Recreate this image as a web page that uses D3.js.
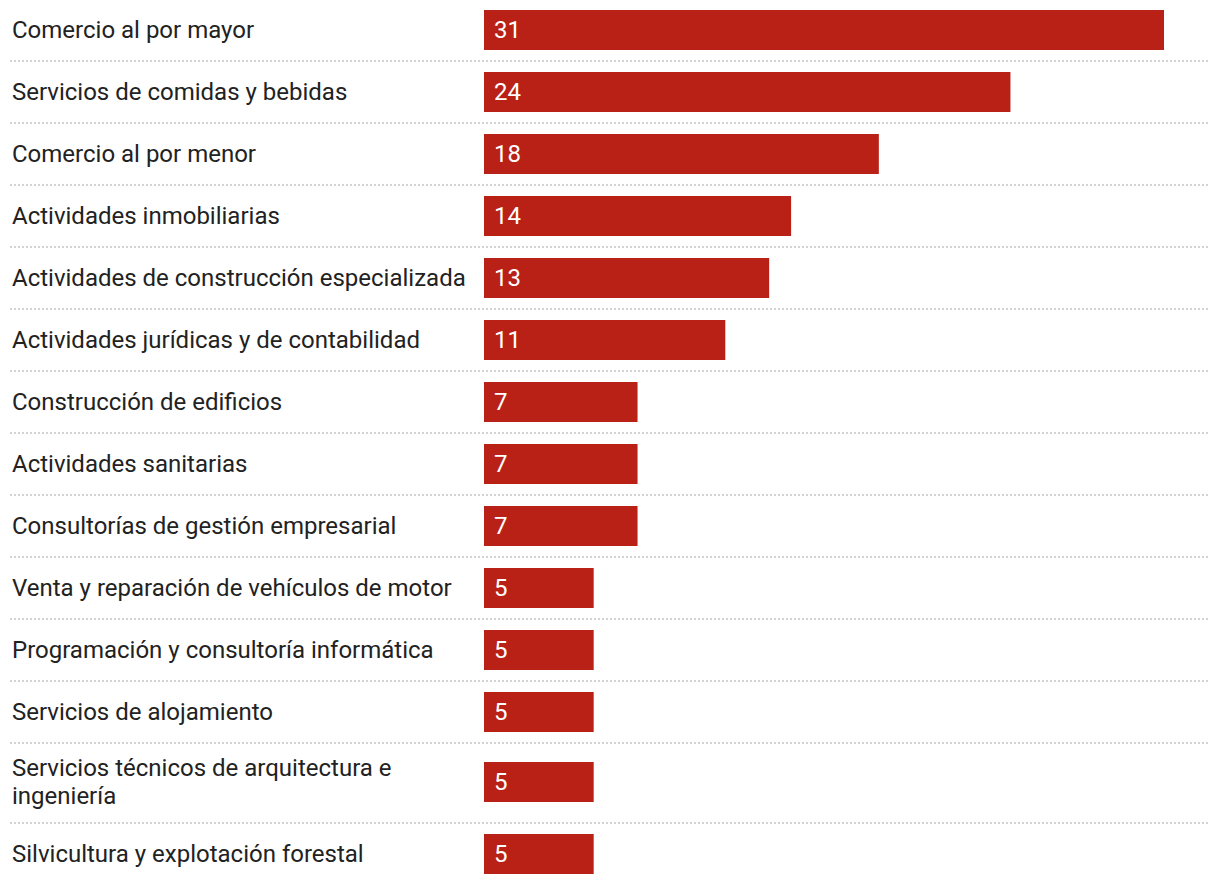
<!DOCTYPE html>
<html><head><meta charset="utf-8">
<script src="https://cdn.jsdelivr.net/npm/d3@7"></script>
<style>
html,body{margin:0;padding:0;background:#fff;}
svg{display:block;font-family:Roboto,sans-serif;}
</style></head>
<body>
<svg id="chart" width="1220" height="884"></svg>
<script>
const categories = [
  "Comercio al por mayor",
  "Servicios de comidas y bebidas",
  "Comercio al por menor",
  "Actividades inmobiliarias",
  "Actividades de construcción especializada",
  "Actividades jurídicas y de contabilidad",
  "Construcción de edificios",
  "Actividades sanitarias",
  "Consultorías de gestión empresarial",
  "Venta y reparación de vehículos de motor",
  "Programación y consultoría informática",
  "Servicios de alojamiento",
  "Servicios técnicos de arquitectura e ingeniería",
  "Silvicultura y explotación forestal"
];
const values = [31, 24, 18, 14, 13, 11, 7, 7, 7, 5, 5, 5, 5, 5];

(function () {
const svg = d3.select("#chart");
const fontSize = 24, lineH = 28, labelX = 12, labelMax = 462;
const barX = 484, barW = 680, barH = 40;

const x = d3.scaleLinear().domain([0, d3.max(values)]).range([0, barW]);

const meas = svg.append("text").attr("font-size", fontSize).attr("visibility", "hidden");
function wrap(str) {
  const words = str.split(" ");
  const lines = [];
  let cur = "";
  for (const w of words) {
    const t = cur ? cur + " " + w : w;
    meas.text(t);
    if (meas.node().getComputedTextLength() > labelMax && cur) {
      lines.push(cur); cur = w;
    } else cur = t;
  }
  lines.push(cur);
  return lines;
}
const rows = categories.map((c, i) => ({ name: c, value: values[i], lines: wrap(c) }));
meas.remove();

let yOff = 0;
rows.forEach(r => {
  r.h = r.lines.length > 1 ? 22 + r.lines.length * 29 : 62;
  r.top = yOff;
  yOff += r.h;
});

const mid = d => (d.lines.length > 1 ? Math.floor((d.h - 3) / 2) : Math.floor((d.h - 1) / 2));

const g = svg.selectAll("g.row").data(rows).join("g").attr("class", "row")
  .attr("transform", d => `translate(0,${d.top})`);

g.append("line")
  .attr("x1", 10).attr("x2", 1208)
  .attr("y1", d => d.h - 1).attr("y2", d => d.h - 1)
  .attr("stroke", "#d2d2d2").attr("stroke-width", 2)
  .attr("stroke-dasharray", "2,2");

g.append("rect")
  .attr("x", barX)
  .attr("y", d => mid(d) - barH / 2)
  .attr("width", d => x(d.value))
  .attr("height", barH)
  .attr("fill", "#b92116");

g.append("text")
  .attr("x", barX + 10)
  .attr("y", d => mid(d))
  .attr("dy", "0.32em")
  .attr("font-size", fontSize)
  .attr("fill", "#fff")
  .text(d => d.value);

g.append("text")
  .attr("font-size", fontSize)
  .attr("fill", "#222")
  .each(function(d) {
    const n = d.lines.length;
    const c = mid(d);
    d3.select(this).selectAll("tspan").data(d.lines).join("tspan")
      .attr("x", labelX)
      .attr("y", (l, j) => c + (j - (n - 1) / 2) * lineH)
      .attr("dy", "0.32em")
      .text(l => l);
  });
})();
</script>
</body></html>
